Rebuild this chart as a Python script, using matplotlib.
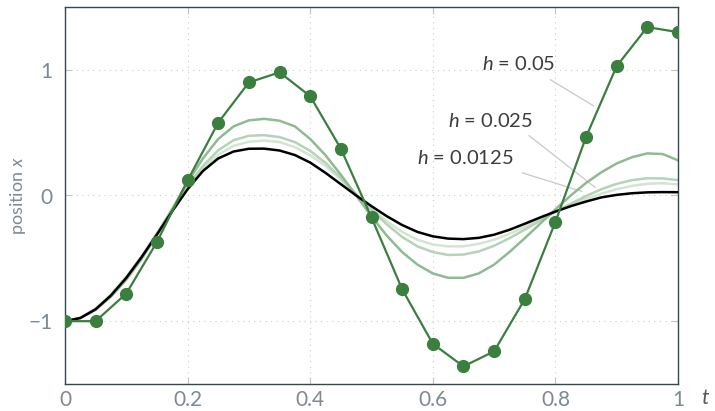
import numpy as np
import matplotlib
matplotlib.use("Agg")
import matplotlib.pyplot as plt

plt.rcParams['font.family'] = ['Lato', 'DejaVu Sans']
plt.rcParams['mathtext.fontset'] = 'custom'
plt.rcParams['mathtext.rm'] = 'Lato'
plt.rcParams['mathtext.it'] = 'Lato:italic'

# fine time grid for the smooth curves
t_fine = np.linspace(0, 1, 41)

x_exact = [-1.000, -0.975, -0.905, -0.795, -0.655, -0.490, -0.310, -0.125,
           0.050, 0.195, 0.295, 0.350, 0.372, 0.373, 0.358, 0.322,
           0.262, 0.180, 0.090, 0.000, -0.085, -0.165, -0.235, -0.290,
           -0.325, -0.343, -0.347, -0.337, -0.312, -0.273, -0.225, -0.175,
           -0.128, -0.085, -0.048, -0.015, 0.005, 0.018, 0.025, 0.027, 0.026]

x_h025 = [-1.000, -0.975, -0.910, -0.805, -0.670, -0.505, -0.315, -0.105,
          0.105, 0.295, 0.450, 0.550, 0.598, 0.610, 0.595, 0.550,
          0.450, 0.320, 0.165, 0.000, -0.165, -0.320, -0.450, -0.550,
          -0.620, -0.655, -0.655, -0.620, -0.550, -0.450, -0.340, -0.225,
          -0.110, 0.000, 0.100, 0.185, 0.255, 0.305, 0.335, 0.330, 0.280]

x_h0125 = [-1.000, -0.973, -0.905, -0.795, -0.655, -0.490, -0.305, -0.115,
           0.075, 0.235, 0.360, 0.440, 0.475, 0.480, 0.465, 0.425,
           0.355, 0.260, 0.140, 0.010, -0.115, -0.230, -0.330, -0.405,
           -0.450, -0.473, -0.470, -0.445, -0.400, -0.340, -0.272, -0.200,
           -0.130, -0.065, -0.005, 0.050, 0.093, 0.122, 0.137, 0.136, 0.122]

x_h00625 = [-1.000, -0.972, -0.900, -0.787, -0.645, -0.480, -0.297, -0.113,
            0.065, 0.215, 0.325, 0.395, 0.428, 0.437, 0.425, 0.385,
            0.320, 0.235, 0.125, 0.005, -0.105, -0.205, -0.290, -0.352,
            -0.390, -0.405, -0.404, -0.385, -0.352, -0.305, -0.250, -0.190,
            -0.130, -0.075, -0.027, 0.015, 0.050, 0.077, 0.093, 0.098, 0.088]

# coarse solution, h = 0.05
t_coarse = np.linspace(0, 1, 21)
x_h05 = [-1.00, -1.00, -0.78, -0.37, 0.12, 0.58, 0.90, 0.98, 0.79, 0.373,
         -0.175, -0.746, -1.18, -1.36, -1.24, -0.825, -0.21, 0.466, 1.03, 1.34, 1.30]

xtick_vals = [0, 0.2, 0.4, 0.6, 0.8, 1]
xtick_labels = ["0", "0.2", "0.4", "0.6", "0.8", "1"]
ytick_vals = [-1, 0, 1]
ytick_labels = ["\u22121", "0", "1"]

labels = ["$h$ = 0.05", "$h$ = 0.025", "$h$ = 0.0125"]
label_text_pos = [(0.68, 1.048), (0.624, 0.59), (0.574, 0.30)]
label_line_from = [(0.792, 0.921), (0.757, 0.476), (0.746, 0.18)]
label_line_to = [(0.862, 0.714), (0.865, 0.064), (0.843, 0.033)]

green = "#3b7f3f"
spine_col = "#34494f"
tick_col = "#7d8a92"

fig = plt.figure(figsize=(7.15, 4.11), dpi=100)
ax = fig.add_axes([65 / 715, 1 - 384 / 411, 613 / 715, 377 / 411])

ax.plot(t_fine, x_h00625, color="#d2e5d2", lw=1.8, zorder=2)
ax.plot(t_fine, x_h0125, color="#b5d3b6", lw=1.8, zorder=2)
ax.plot(t_fine, x_h025, color="#8fbb91", lw=1.8, zorder=2)
ax.plot(t_fine, x_exact, color="black", lw=1.8, zorder=3)
ax.plot(t_coarse, x_h05, color=green, lw=1.6, marker="o", ms=8.5, zorder=4)

for lab, tp, lf, lt in zip(labels, label_text_pos, label_line_from, label_line_to):
    ax.text(tp[0], tp[1], lab, fontsize=14.5, color="#3c3c3c", va="center", ha="left")
    ax.plot([lf[0], lt[0]], [lf[1], lt[1]], color="#c8c8c8", lw=0.9, zorder=1)

ax.set_xlim(0, 1)
ax.set_ylim(-1.5, 1.5)
ax.set_xticks(xtick_vals)
ax.set_xticklabels(xtick_labels)
ax.set_yticks(ytick_vals)
ax.set_yticklabels(ytick_labels)
ax.tick_params(direction="in", top=True, right=True, length=5, width=0.8,
               color="#c4c4c4", labelcolor=tick_col, labelsize=15)
ax.tick_params(axis="x", pad=4)
ax.tick_params(axis="y", pad=9)

ax.grid(True, color="#cccccc", lw=0.8, linestyle=(0, (1, 4)), zorder=0)
for sp in ax.spines.values():
    sp.set_color(spine_col)
    sp.set_linewidth(1.0)

ax.set_ylabel("position $x$", fontsize=13, color=tick_col, labelpad=0)
fig.text(705 / 715, 1 - 398 / 411, "t", fontsize=15, style="italic",
         color="#50595e", ha="center", va="center")

fig.savefig("out.png", dpi=100)
